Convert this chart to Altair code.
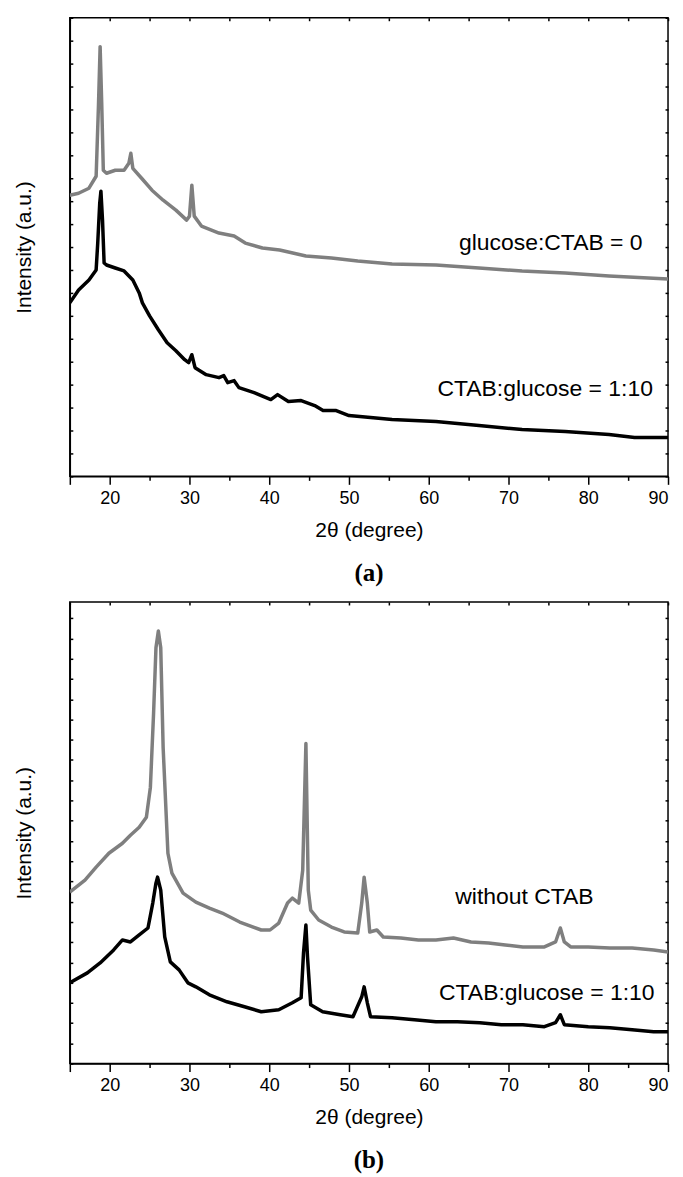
import altair as alt
import pandas as pd

# ---------------- Panel (a) ----------------
a_gray_x = [15.0, 16.1, 17.4, 18.3, 18.6, 18.8, 19.0, 19.2, 19.6, 20.7,
            21.8, 22.4, 22.65, 22.9, 24.0, 25.3, 26.7, 28.3, 29.65, 30.0,
            30.3, 30.6, 31.5, 33.7, 35.6, 37.0, 39.15, 41.3, 44.6, 47.8,
            51.1, 55.4, 60.9, 66.3, 71.7, 77.1, 82.6, 90.0]
a_gray_y = [282, 284, 289, 301, 374, 431, 374, 307, 304, 307,
            307, 314, 324, 309, 299, 287, 277, 267, 257, 261,
            292, 261, 251, 244, 241, 234, 229, 227, 221, 219,
            216, 213, 212, 209, 206, 204, 201, 198]

a_black_x = [15.0, 16.1, 17.4, 18.3, 18.5, 18.75, 18.9, 19.1, 19.3, 19.6,
             20.7, 21.8, 22.9, 23.7, 24.1, 25.0, 26.1, 27.2, 28.3, 29.4,
             29.9, 30.3, 30.7, 32.1, 33.7, 34.3, 34.8, 35.6, 36.2, 38.1,
             40.2, 41.05, 42.4, 44.0, 45.7, 46.75, 48.4, 50.0, 55.4, 60.9,
             66.3, 71.7, 77.1, 82.6, 85.8, 90.0]
a_black_y = [174, 187, 197, 207, 234, 274, 286, 257, 214, 212,
             209, 206, 197, 184, 174, 161, 147, 134, 126, 117,
             114, 122, 109, 102, 99, 101, 94, 96, 89, 84,
             77, 82, 75, 76, 71, 66, 66, 61, 57, 55,
             51, 47, 45, 42, 39, 39]

a_label_text = ["glucose:CTAB = 0", "CTAB:glucose = 1:10"]
a_label_x = [75.3, 74.6]
a_label_y = [234, 88]

# ---------------- Panel (b) ----------------
b_gray_x = [15.0, 16.9, 18.3, 19.9, 21.6, 22.6, 23.7, 24.6, 25.1, 25.5,
            25.8, 26.1, 26.4, 26.7, 27.3, 27.8, 29.2, 30.8, 32.5, 34.1,
            36.3, 39.0, 40.1, 41.2, 42.3, 42.9, 43.7, 44.2, 44.6, 44.9,
            45.2, 46.2, 47.8, 49.4, 51.1, 51.6, 51.9, 52.3, 52.6, 53.5,
            54.3, 56.5, 58.7, 60.9, 63.1, 65.3, 67.5, 69.6, 71.8, 74.5,
            75.9, 76.5, 77.0, 77.8, 80.0, 82.7, 85.5, 88.2, 90.0]
b_gray_y = [172, 184, 197, 211, 221, 229, 237, 247, 277, 351,
            417, 434, 417, 317, 211, 191, 171, 162, 156, 151,
            142, 134, 134, 141, 161, 166, 161, 194, 321, 174,
            154, 144, 137, 132, 131, 161, 187, 161, 132, 134,
            127, 126, 124, 124, 126, 122, 121, 119, 117, 117,
            122, 136, 122, 117, 117, 116, 116, 114, 112]

b_black_x = [15.0, 17.2, 18.8, 20.5, 21.6, 22.6, 23.7, 24.8, 25.4, 25.8,
             26.0, 26.4, 26.9, 27.6, 28.7, 29.8, 30.8, 32.5, 34.7, 36.9,
             39.0, 41.2, 42.9, 44.0, 44.3, 44.6, 44.8, 45.2, 46.7, 48.9,
             50.5, 51.6, 51.9, 52.3, 52.7, 55.4, 58.2, 60.9, 63.6, 66.4,
             69.1, 71.8, 74.5, 75.9, 76.5, 77.0, 80.0, 82.7, 85.5, 88.2,
             90.0]
b_black_y = [81, 91, 101, 114, 124, 122, 129, 136, 161, 181,
             187, 174, 127, 102, 94, 81, 77, 69, 62, 57,
             52, 54, 61, 66, 111, 139, 107, 59, 52, 49,
             47, 67, 77, 61, 47, 46, 44, 42, 42, 41,
             39, 39, 37, 41, 49, 39, 37, 36, 34, 32,
             32]

b_label_text = ["without CTAB", "CTAB:glucose = 1:10"]
b_label_x = [72.0, 74.8]
b_label_y = [167, 71]

# ---------------- axis tick values ----------------
x_major = [15, 20, 30, 40, 50, 60, 70, 80, 90]
x_minor = [25, 35, 45, 55, 65, 75, 85]
x_all = list(range(15, 91, 5))

W = 600
SANS = "Liberation Sans"


def panel(gx, gy, bx, by, lt, lx, ly, H, ymax, ystep, caption):
    xs = alt.Scale(domain=[15, 90], nice=False, zero=False)
    ys = alt.Scale(domain=[0, ymax], nice=False, zero=False)
    yticks = [round(i * ystep, 2) for i in range(int(ymax / ystep) + 1)]

    dg = pd.DataFrame({"t": gx, "i": gy})
    db = pd.DataFrame({"t": bx, "i": by})
    dl = pd.DataFrame({"t": lx, "i": ly, "txt": lt})

    gray = alt.Chart(dg).mark_line(color="#7f7f7f", strokeWidth=3.5,
                                   strokeJoin="round", clip=True).encode(
        x=alt.X("t:Q", scale=xs, axis=alt.Axis(
            orient="bottom", values=x_major,
            labelExpr="datum.value == 15 ? '' : datum.label",
            tickSize=8, labelPadding=5, labelFontSize=18,
            title="2θ (degree)", titleFontSize=21, titlePadding=12,
            domain=True, grid=False)),
        y=alt.Y("i:Q", scale=ys, axis=alt.Axis(
            orient="left", labels=False, ticks=False, domain=True, grid=False,
            title="Intensity (a.u.)", titleFontSize=21, titlePadding=35)),
    )

    black = alt.Chart(db).mark_line(color="#000000", strokeWidth=3.5,
                                    strokeJoin="round", clip=True).encode(
        x=alt.X("t:Q", scale=xs, axis=alt.Axis(
            orient="bottom", values=x_minor, tickSize=4, labels=False,
            domain=False, grid=False, title=None)),
        y=alt.Y("i:Q", scale=ys, axis=alt.Axis(
            orient="right", offset=-W, values=yticks, tickSize=3, labels=False,
            domain=False, grid=False, title=None)),
    )

    labels = alt.Chart(dl).mark_text(
        font=SANS, fontSize=23, color="black", align="center", baseline="middle"
    ).encode(
        x=alt.X("t:Q", scale=xs, axis=alt.Axis(
            orient="bottom", offset=-H, values=x_all, tickSize=3, labels=False,
            domain=False, grid=False, title=None)),
        y=alt.Y("i:Q", scale=ys, axis=alt.Axis(
            orient="left", offset=-W, values=yticks, tickSize=3, labels=False,
            domain=False, grid=False, title=None)),
        text="txt:N",
    )

    return alt.layer(gray, black, labels).resolve_axis(
        x="independent", y="independent"
    ).properties(
        width=W, height=H,
        title=alt.TitleParams(caption, orient="bottom", font="Liberation Serif",
                              fontSize=25, fontWeight="bold", color="black",
                              offset=21, anchor="middle"),
    )


pa = panel(a_gray_x, a_gray_y, a_black_x, a_black_y, a_label_text, a_label_x,
           a_label_y, 460, 460, 23, "(a)")
pb = panel(b_gray_x, b_gray_y, b_black_x, b_black_y, b_label_text, b_label_x,
           b_label_y, 463, 463, 20.3, "(b)")

chart = alt.vconcat(pa, pb, spacing=13).configure(
    padding={"left": 5, "top": 6, "right": 5, "bottom": 5}
).configure_view(
    stroke="black", strokeWidth=1.5
).configure_axis(
    labelFont=SANS, titleFont=SANS, titleFontWeight="normal",
    labelColor="black", titleColor="black", domainColor="black",
    tickColor="black", domainWidth=1.5, tickWidth=1.5
)

chart.save("out.html", embed_options={"renderer": "svg", "actions": False})
